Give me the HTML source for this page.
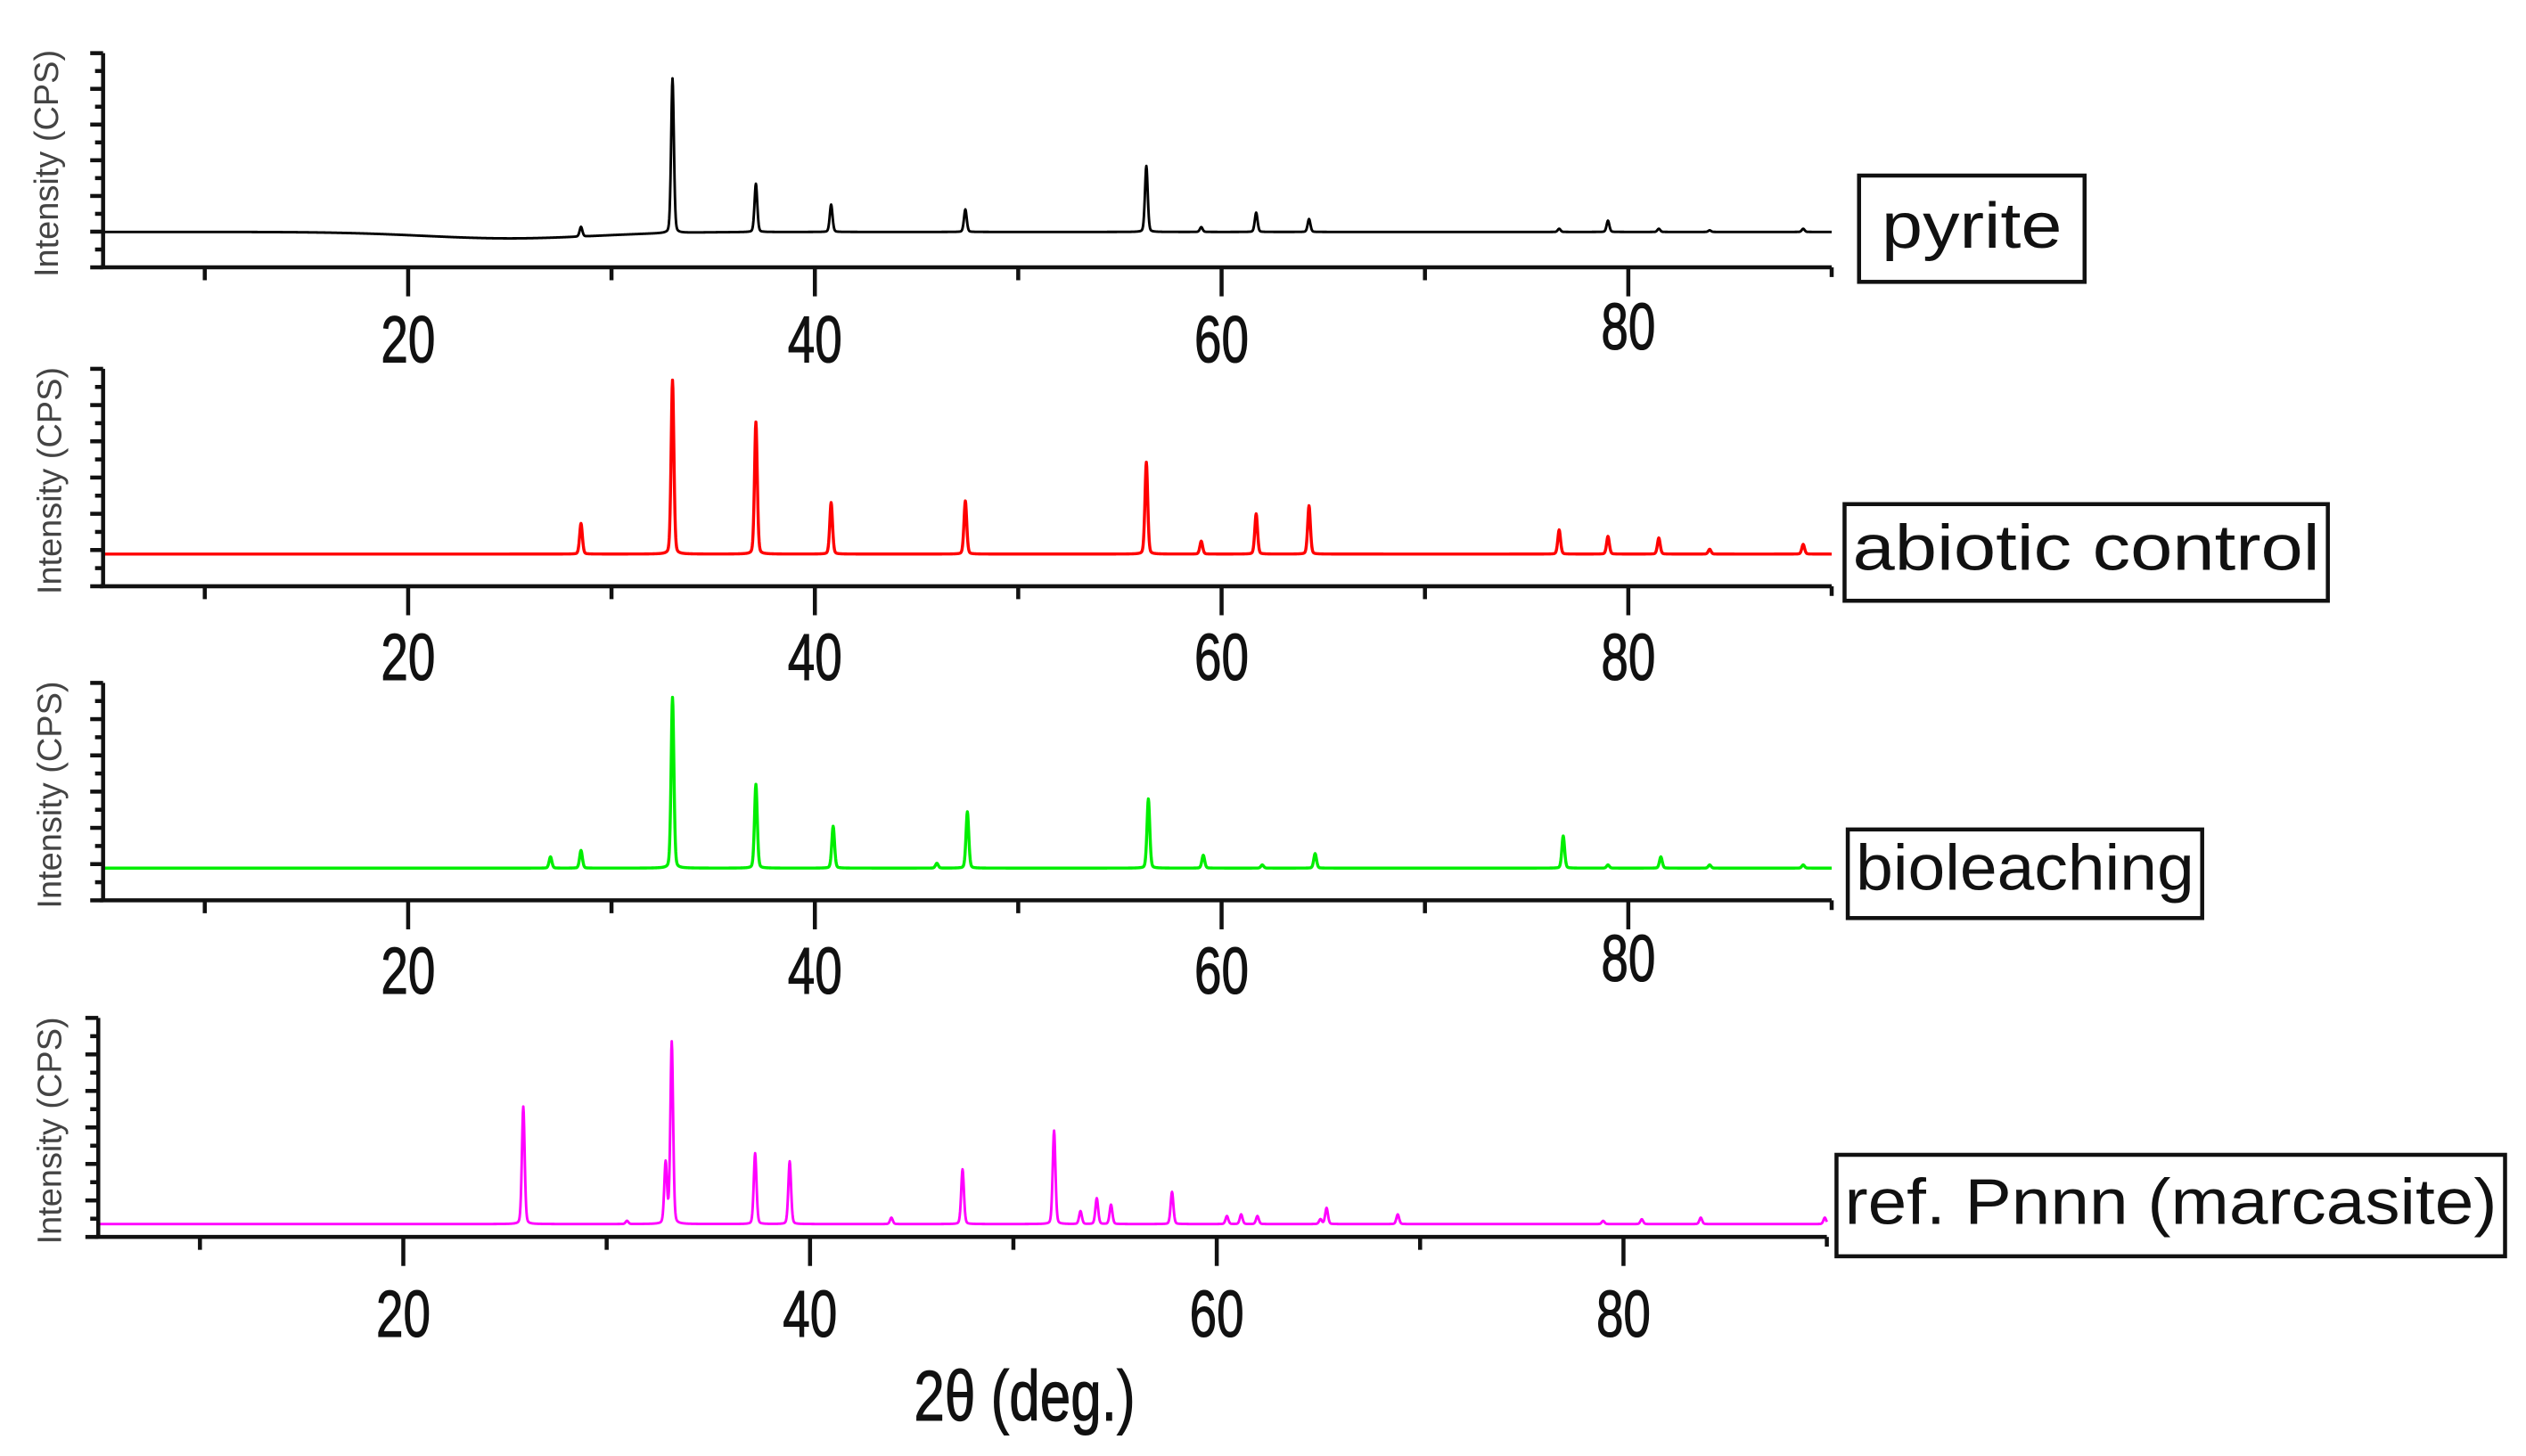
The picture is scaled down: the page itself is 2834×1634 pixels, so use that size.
<!DOCTYPE html>
<html><head><meta charset="utf-8"><style>
html,body{margin:0;padding:0;background:#fff}
svg{display:block}
text{font-family:"Liberation Sans",sans-serif}
</style></head><body>
<svg id="chart" width="2834" height="1634" viewBox="0 0 1568 904" preserveAspectRatio="none" xmlns="http://www.w3.org/2000/svg">
<rect width="1568" height="904" fill="#fff"/>
</svg>
<script>
// peak positions (2θ, deg) and intensities (arbitrary units) per sample
const pyritePos = [28.5, 33.0, 37.1, 40.8, 47.4, 56.3, 59.0, 61.7, 64.3, 76.6, 79.0, 81.5, 84.0, 88.6];
const pyriteInt = [6, 96, 30, 17, 14, 41, 3, 12, 8, 2, 7, 2, 1, 2];
const abioticPos = [28.5, 33.0, 37.1, 40.8, 47.4, 56.3, 59.0, 61.7, 64.3, 76.6, 79.0, 81.5, 84.0, 88.6];
const abioticInt = [19, 108, 82, 32, 33, 57, 8, 25, 30, 15, 11, 10, 3, 6];
const bioPos = [27.0, 28.5, 33.0, 37.1, 40.9, 46.0, 47.5, 56.4, 59.1, 62.0, 64.6, 76.8, 79.0, 81.6, 84.0, 88.6];
const bioInt = [7, 11, 106, 52, 26, 3, 35, 43, 8, 2, 9, 20, 2, 7, 2, 2];
const marcPos = [25.9, 31.0, 32.9, 33.2, 37.3, 39.0, 44.0, 47.5, 52.0, 53.3, 54.1, 54.8, 57.8, 60.5, 61.2, 62.0, 65.1, 65.4, 68.9, 79.0, 80.9, 83.8, 89.9];
const marcInt = [73, 2, 38, 113, 44, 39, 4, 34, 58, 8, 16, 12, 20, 5, 6, 5, 3, 10, 6, 2, 3, 4, 4];
const xTicks = [20, 40, 60, 80];
const xMinor = [10, 30, 50, 70];
const labels = ["pyrite", "abiotic control", "bioleaching", "ref. Pnnn (marcasite)"];

const svg = document.getElementById('chart');
const NS = 'http://www.w3.org/2000/svg';
function mk(tag, attrs, parent){const e=document.createElementNS(NS,tag);for(const k in attrs)e.setAttribute(k,attrs[k]);(parent||svg).appendChild(e);return e;}

const panels = [
 {pos:pyritePos, int:pyriteInt, color:'#000', x0:64, x1:1137, top:33, axisY:166, base:144, lblY:[225,225,225,217], hump:true, box:[1154,109,140,66], sw:1.6},
 {pos:abioticPos, int:abioticInt, color:'#ff0000', x0:64, x1:1137, top:229, axisY:364, base:344, lblY:[422,422,422,422], box:[1145,313,300,60], sw:1.9},
 {pos:bioPos, int:bioInt, color:'#00ee00', x0:64, x1:1137, top:424, axisY:559, base:539, lblY:[617,617,617,609], box:[1147,515,220,55], sw:1.9},
 {pos:marcPos, int:marcInt, color:'#ff00ff', x0:61, x1:1134, top:632, axisY:768, base:760, lblY:[830,830,830,830], box:[1140,717,415,63], sw:1.6}
];
const names=['pyrite','abiotic-control','bioleaching','marcasite-ref'];
const xDomain=[5,90];

panels.forEach((p,i)=>{
  const g=mk('g',{});
  
  
  const xs=v=>p.x0+(v-xDomain[0])/(xDomain[1]-xDomain[0])*(p.x1-p.x0);
  const ys=v=>p.base-v;
  let d='';
  for(let t=xDomain[0];t<=xDomain[1]+1e-9;t+=0.02){
    let y=0;
    for(let k=0;k<p.pos.length;k++){
      const dx=(t-p.pos[k]);
      const w=0.07;
      y+=p.int[k]*(0.75*Math.exp(-dx*dx/(2*w*w))+0.25/(1+(dx/w)*(dx/w)));
    }
    if(p.hump){y+=-4*Math.exp(-Math.pow((t-25)/6,2));}
    d+=(d?'L':'M')+xs(t).toFixed(2)+' '+ys(y).toFixed(2);
  }
  const path=mk('path',{d:d,fill:'none',stroke:p.color,'stroke-width':p.sw,'stroke-linejoin':'round'},g);
  
  
  const ax=mk('g',{stroke:'#111','stroke-width':2.5},g);
  
  
  mk('line',{x1:p.x0,y1:p.top,x2:p.x0,y2:p.axisY},ax);
  mk('line',{x1:p.x0-2,y1:p.axisY,x2:p.x1,y2:p.axisY},ax);
  mk('line',{x1:p.x1,y1:p.axisY,x2:p.x1,y2:p.axisY+6},ax);
  const n=12;
  for(let k=0;k<=n;k++){const y=p.top+(p.axisY-p.top)*k/n;mk('line',{x1:p.x0-(k%2?5:8),y1:y,x2:p.x0,y2:y},ax);}
  xTicks.forEach(v=>mk('line',{x1:xs(v),y1:p.axisY,x2:xs(v),y2:p.axisY+18},ax));
  xMinor.forEach(v=>mk('line',{x1:xs(v),y1:p.axisY,x2:xs(v),y2:p.axisY+8},ax));
  xTicks.forEach((v,k)=>{
    const t=mk('text',{x:0,y:0,'font-size':41,'text-anchor':'middle',fill:'#111',stroke:'#111','stroke-width':0.6,transform:`translate(${xs(v)},${p.lblY[k]}) scale(0.74,1)`},g);
    
    
    t.textContent=v;
  });
  const yt=mk('text',{x:0,y:0,'font-size':21,'text-anchor':'middle',fill:'#444',transform:`translate(${i===0?36:38},${(p.top+p.axisY)/2+2}) rotate(-90)`},g);
  
  
  yt.textContent='Intensity (CPS)';
  const [bx,by,bw,bh]=p.box;
  const lb=mk('g',{},g);
  
  
  mk('rect',{x:bx,y:by,width:bw,height:bh,fill:'#fff',stroke:'#111','stroke-width':2.5},lb);
  const lt=mk('text',{x:bx+bw/2,y:by+bh*0.68,'font-size':40,'text-anchor':'middle',fill:'#111',textLength:bw-(i===0?28:10),lengthAdjust:'spacingAndGlyphs'},lb);
  lt.textContent=labels[i];
});
const xt=mk('text',{x:0,y:0,'font-size':44,'text-anchor':'middle',fill:'#111',stroke:'#111','stroke-width':0.6,transform:'translate(636,882) scale(0.78,1)'});


xt.textContent='2θ (deg.)';
</script>
</body></html>
